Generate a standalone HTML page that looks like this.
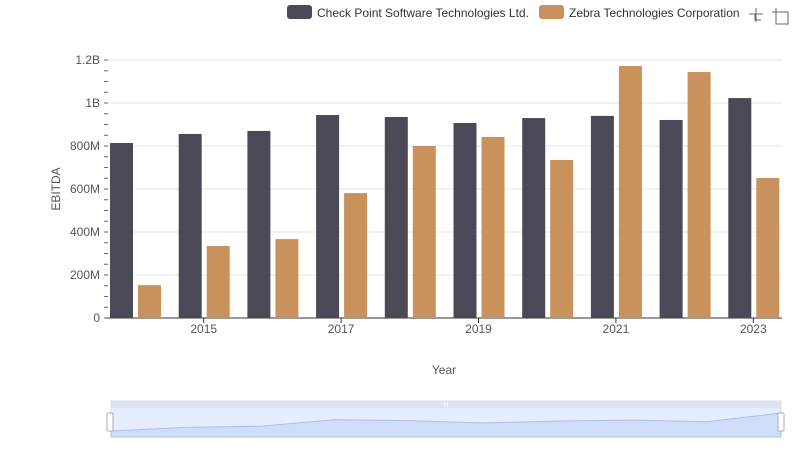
<!DOCTYPE html>
<html><head><meta charset="utf-8"><style>
body{margin:0;background:#fff;font-family:"Liberation Sans",sans-serif}
svg text{font-family:"Liberation Sans",sans-serif}
</style></head><body>
<svg id="c" width="800" height="461">
<g>
 <rect x="287" y="5" width="25" height="14" rx="3" fill="#4a4a57"/>
 <text x="317" y="17" font-size="12" fill="#333">Check Point Software Technologies Ltd.</text>
 <rect x="539" y="5" width="25" height="14" rx="3" fill="#c9915c"/>
 <text x="569" y="17" font-size="12" fill="#333">Zebra Technologies Corporation</text>
</g>
<g stroke="#666" fill="none" stroke-width="1">
 <path d="M756 8v14M749 14h14M755 14v6h6"/>
 <path d="M776 8v4M772 12h16v12h-12v-16"/>
</g>
<g id="grid"></g>
<g id="bars"></g>
<g id="axes"></g>
<text x="60" y="189" font-size="12" fill="#555" transform="rotate(-90 60 189)" text-anchor="middle">EBITDA</text>
<text x="444" y="374" font-size="12" fill="#555" text-anchor="middle">Year</text>
<g>
 <rect x="111" y="401" width="670" height="36" fill="#e6edfd" stroke="#d6dce8"/>
 <rect x="111" y="401" width="670" height="7" fill="#dde3f2"/>
 <text x="446" y="407" font-size="6" fill="#fff" text-anchor="middle">III</text>
 <path id="sl" fill="#c9d8f8" fill-opacity="0.8" stroke="#a9c1f3"/>
 <rect x="107" y="413" width="6" height="18" rx="1" fill="#fff" stroke="#aab"/>
 <rect x="778" y="413" width="6" height="18" rx="1" fill="#fff" stroke="#aab"/>
</g>
</svg>
<script>
const years=[2014,2015,2016,2017,2018,2019,2020,2021,2022,2023];
const checkPoint=[0.814,0.856,0.870,0.944,0.935,0.907,0.930,0.940,0.921,1.023];
const zebra=[0.153,0.335,0.367,0.581,0.800,0.842,0.735,1.172,1.144,0.651];
const yTicks=[0,0.2,0.4,0.6,0.8,1,1.2];
const yTickLabels=["0","200M","400M","600M","800M","1B","1.2B"];
const NS="http://www.w3.org/2000/svg";
const X0=108,X1=782,Y0=318,Y1=60,YMAX=1.2;
const y=v=>Y0-(v/YMAX)*(Y0-Y1);
const gw=68.7;
const xg=i=>X0+i*gw;
function mk(tag,attrs,parent){const e=document.createElementNS(NS,tag);for(const k in attrs)e.setAttribute(k,attrs[k]);parent.appendChild(e);return e;}
const grid=document.getElementById('grid'),bars=document.getElementById('bars'),axes=document.getElementById('axes');
yTicks.forEach((t,i)=>{
 const l=mk('line',{x1:X0,x2:X1,y1:y(t),y2:y(t),stroke:i?'#e6e6e6':'#333'},grid);
 
 
 const tx=mk('text',{x:100,y:y(t)+4,'font-size':12,fill:'#555','text-anchor':'end'},axes);
 tx.textContent=yTickLabels[i];
 
 
});
for(let k=0;k<=30;k++){const v=k*0.05;if(v>YMAX+1e-9)break;
 const m=mk('line',{x1:104,x2:108,y1:y(v),y2:y(v),stroke:'#666'},axes);
 
 }
years.forEach((yr,i)=>{
 const b1=mk('rect',{x:xg(i)+2,y:y(checkPoint[i]),width:23,height:Y0-y(checkPoint[i]),fill:'#4a4a57'},bars);
 
 
 const b2=mk('rect',{x:xg(i)+30,y:y(zebra[i]),width:23,height:Y0-y(zebra[i]),fill:'#c9915c'},bars);
 
 
 if(i%2==1){
  const cx=xg(i)+27;
  const tk=mk('line',{x1:cx,x2:cx,y1:Y0,y2:Y0+5,stroke:'#333'},axes);
  
  
  const tx=mk('text',{x:cx,y:Y0+15,'font-size':12,fill:'#555','text-anchor':'middle'},axes);
  tx.textContent=yr;
  
  
 }
});
const mn=Math.min(...checkPoint),mx=Math.max(...checkPoint);
let d='M111 437';
checkPoint.forEach((v,i)=>{const px=111+i*670/(years.length-1);const py=431-(v-mn)/(mx-mn)*18;d+=' L'+px.toFixed(1)+' '+py.toFixed(1);});
d+=' L781 437Z';
document.getElementById('sl').setAttribute('d',d);
</script>
</body></html>
